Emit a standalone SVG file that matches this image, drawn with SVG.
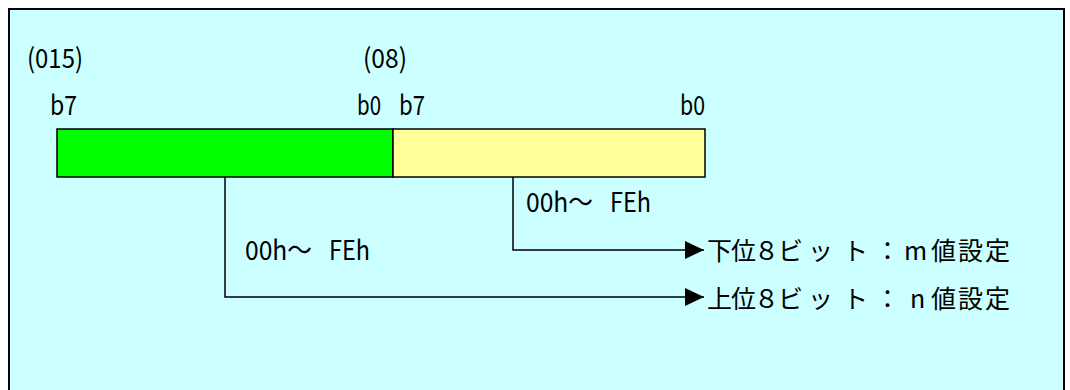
<svg xmlns="http://www.w3.org/2000/svg" width="1070" height="390" viewBox="0 0 1070 390">
  <style>
    .t { font-family: "Noto Sans CJK JP", "Liberation Sans", sans-serif; font-size: 27px; fill: #000; }
    .j { font-family: "Noto Sans CJK JP", sans-serif; font-size: 25px; fill: #000; }
    .box { stroke: #000; stroke-width: 1.5; }
    .conn { fill: none; stroke: #000; stroke-width: 1.5; }
  </style>
  <defs>
    <marker id="arrow" markerUnits="userSpaceOnUse" markerWidth="19" markerHeight="18" refX="19" refY="9" orient="auto">
      <path d="M0,0 L19,9 L0,18 Z" fill="#000"/>
    </marker>
  </defs>

  <g id="frame">
    <rect x="9" y="9" width="1055" height="400" fill="#CCFFFF" stroke="#000" stroke-width="2"/>
  </g>

  <g id="register-high">
    <rect class="box" x="57" y="129" width="336" height="48" fill="#00FF00"/>
    <text class="t" x="27" y="68" textLength="56" lengthAdjust="spacingAndGlyphs">(015)</text>
    <text class="t" x="50" y="115" textLength="27" lengthAdjust="spacingAndGlyphs">b7</text>
    <text class="t" x="357" y="115" textLength="24" lengthAdjust="spacingAndGlyphs">b0</text>
  </g>

  <g id="register-low">
    <rect class="box" x="393" y="129" width="312" height="48" fill="#FFFF99"/>
    <text class="t" x="363" y="68" textLength="44" lengthAdjust="spacingAndGlyphs">(08)</text>
    <text class="t" x="399" y="115" textLength="26" lengthAdjust="spacingAndGlyphs">b7</text>
    <text class="t" x="680" y="115" textLength="25" lengthAdjust="spacingAndGlyphs">b0</text>
  </g>

  <g id="connectors">
    <path class="conn" d="M513,177 V250 H704" marker-end="url(#arrow)"/>
    <path class="conn" d="M225,177 V297 H704" marker-end="url(#arrow)"/>
  </g>

  <g id="range-low">
    <text class="t" y="212"><tspan x="526" textLength="67" lengthAdjust="spacingAndGlyphs">00h～</tspan><tspan x="610" textLength="41" lengthAdjust="spacingAndGlyphs">FEh</tspan></text>
  </g>
  <g id="range-high">
    <text class="t" y="260"><tspan x="245" textLength="67" lengthAdjust="spacingAndGlyphs">00h～</tspan><tspan x="329" textLength="41" lengthAdjust="spacingAndGlyphs">FEh</tspan></text>
  </g>

  <g id="label-low">
    <text class="j" x="707 731 754 778 808 843 875 904 931 958 985" y="260">下位８ビット：m値設定</text>
  </g>
  <g id="label-high">
    <text class="j" x="707 731 754 778 808 843 875 910 931 958 985" y="308">上位８ビット：n値設定</text>
  </g>
</svg>
